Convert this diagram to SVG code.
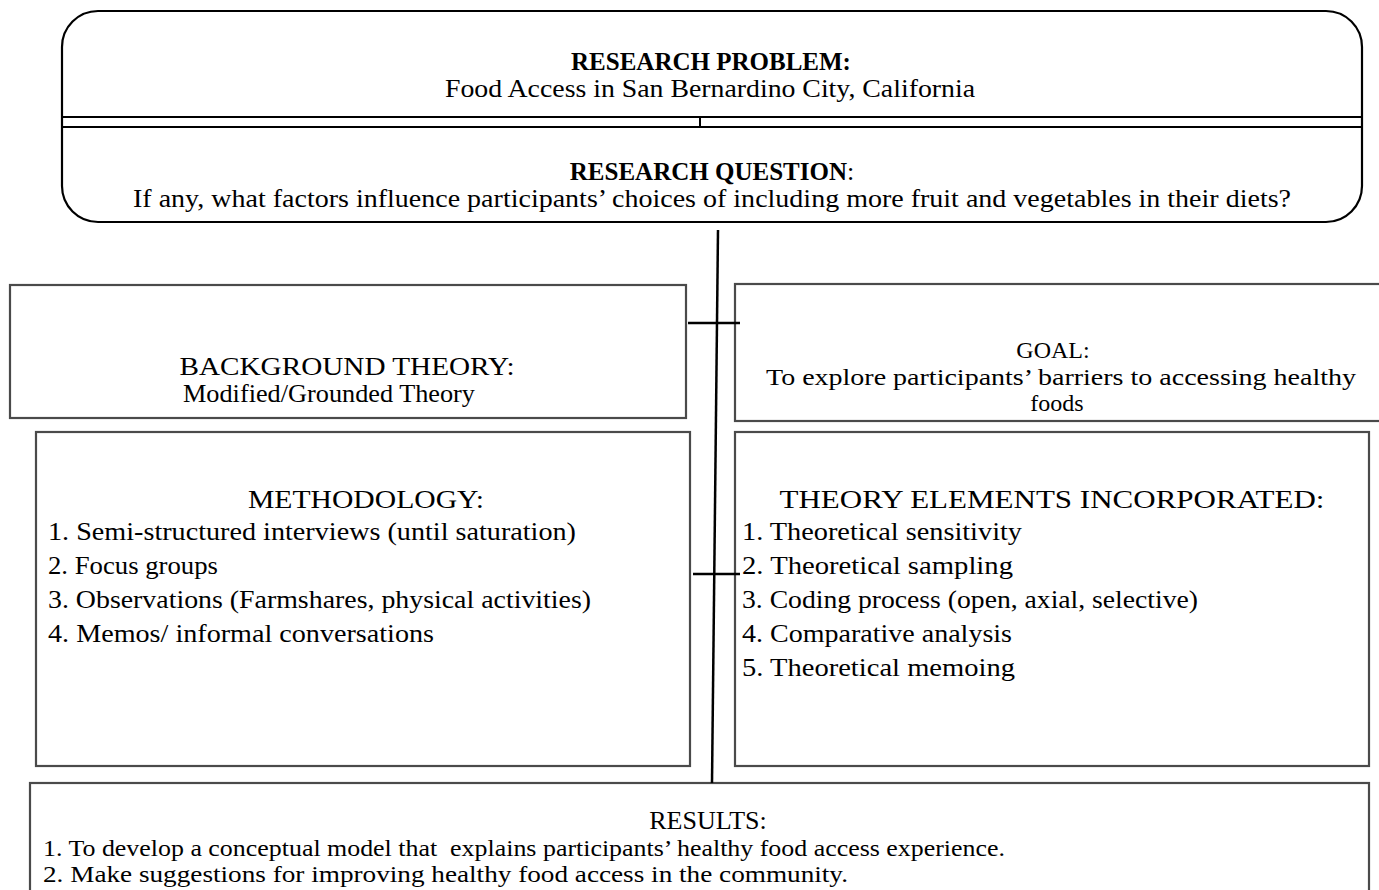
<svg xmlns="http://www.w3.org/2000/svg" width="1379" height="890" viewBox="0 0 1379 890">
<style>
text{font-family:"Liberation Serif","Times New Roman",serif;font-size:26px;fill:#000}
.c{text-anchor:middle}
.b{font-weight:bold;font-size:25px}
.s{font-size:24px}
.box{fill:#fff;stroke:#4a4a4a;stroke-width:2.2}
.top{fill:#fff;stroke:#000;stroke-width:2.2}
.conn{stroke:#000;stroke-width:2.5;fill:none}
</style>
<rect width="1379" height="890" fill="#fff"/>
<g id="research">
<rect class="top" x="62" y="11" width="1300" height="211" rx="36" ry="36"/>
<line x1="62" y1="117" x2="1362" y2="117" stroke="#000" stroke-width="2.2"/>
<line x1="62" y1="127" x2="1362" y2="127" stroke="#000" stroke-width="2.2"/>
<line x1="700" y1="117" x2="700" y2="127" stroke="#000" stroke-width="2"/>
<text class="c b" x="711" y="70">RESEARCH PROBLEM:</text>
<text class="c" x="710" y="97" textLength="530" lengthAdjust="spacingAndGlyphs">Food Access in San Bernardino City, California</text>
<text class="c" x="712" y="180"><tspan class="b">RESEARCH QUESTION</tspan>:</text>
<text class="c" x="712" y="207" textLength="1158" lengthAdjust="spacingAndGlyphs">If any, what factors influence participants’ choices of including more fruit and vegetables in their diets?</text>
</g>
<g id="background">
<rect class="box" x="10" y="285" width="676" height="133"/>
<text class="c" x="347" y="375" textLength="335" lengthAdjust="spacingAndGlyphs">BACKGROUND THEORY:</text>
<text class="c" x="329" y="402" textLength="292" lengthAdjust="spacingAndGlyphs">Modified/Grounded Theory</text>
</g>
<g id="goal">
<rect class="box" x="735" y="284" width="660" height="137"/>
<text class="c s" x="1053" y="358">GOAL:</text>
<text class="c s" x="1061" y="385" textLength="590" lengthAdjust="spacingAndGlyphs">To explore participants’ barriers to accessing healthy</text>
<text class="c s" x="1057" y="411">foods</text>
</g>
<g id="methodology">
<rect class="box" x="36" y="432" width="654" height="334"/>
<text class="c" x="366" y="508" textLength="236" lengthAdjust="spacingAndGlyphs">METHODOLOGY:</text>
<text x="48" y="540" textLength="528" lengthAdjust="spacingAndGlyphs">1. Semi-structured interviews (until saturation)</text>
<text x="48" y="574" textLength="170" lengthAdjust="spacingAndGlyphs">2. Focus groups</text>
<text x="48" y="608" textLength="543" lengthAdjust="spacingAndGlyphs">3. Observations (Farmshares, physical activities)</text>
<text x="48" y="642" textLength="386" lengthAdjust="spacingAndGlyphs">4. Memos/ informal conversations</text>
</g>
<g id="theory">
<rect class="box" x="735" y="432" width="634" height="334"/>
<text class="c" x="1052" y="508" textLength="545" lengthAdjust="spacingAndGlyphs">THEORY ELEMENTS INCORPORATED:</text>
<text x="742" y="540" textLength="280" lengthAdjust="spacingAndGlyphs">1. Theoretical sensitivity</text>
<text x="742" y="574" textLength="271" lengthAdjust="spacingAndGlyphs">2. Theoretical sampling</text>
<text x="742" y="608" textLength="456" lengthAdjust="spacingAndGlyphs">3. Coding process (open, axial, selective)</text>
<text x="742" y="642" textLength="270" lengthAdjust="spacingAndGlyphs">4. Comparative analysis</text>
<text x="742" y="676" textLength="273" lengthAdjust="spacingAndGlyphs">5. Theoretical memoing</text>
</g>
<g id="results">
<rect class="box" x="30" y="783" width="1339" height="130"/>
<text class="c" x="708" y="829">RESULTS:</text>
<text class="s" x="43" y="856" textLength="962" lengthAdjust="spacingAndGlyphs" xml:space="preserve">1. To develop a conceptual model that  explains participants’ healthy food access experience.</text>
<text class="s" x="43" y="882" textLength="805" lengthAdjust="spacingAndGlyphs">2. Make suggestions for improving healthy food access in the community.</text>
</g>
<g id="connectors">
<line class="conn" x1="718" y1="230" x2="712" y2="783"/>
<line class="conn" x1="688" y1="323" x2="740" y2="323"/>
<line class="conn" x1="693" y1="574" x2="740" y2="574"/>
</g>
</svg>
